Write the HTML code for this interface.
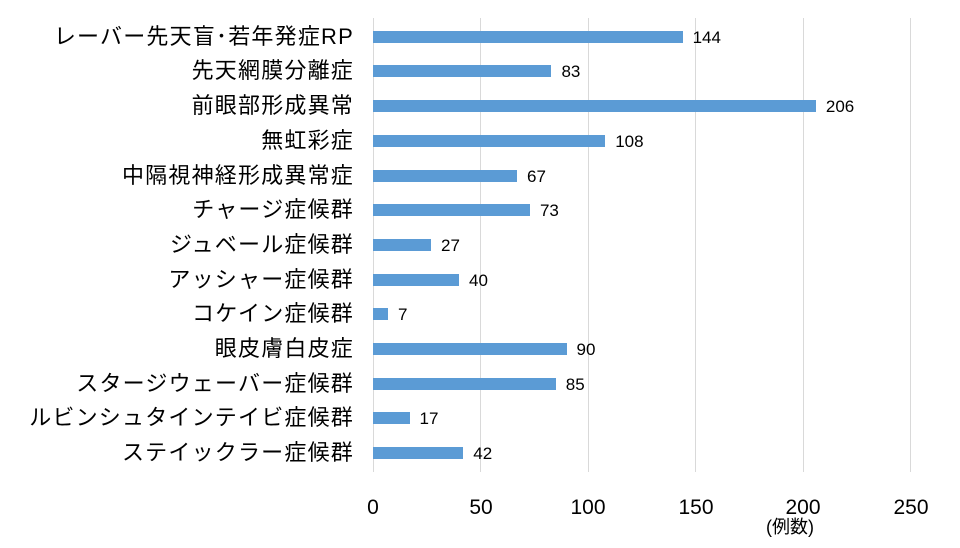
<!DOCTYPE html>
<html><head><meta charset="utf-8"><style>
body{margin:0;width:960px;height:548px;background:#fff;position:relative;overflow:hidden;font-family:"Liberation Sans","Noto Sans CJK JP",sans-serif;color:#000}
.g{position:absolute;top:18px;height:454px;width:1px;background:#d9d9d9}
.b{position:absolute;left:373px;height:12px;background:#5b9bd5}
.l{position:absolute;right:606px;font-size:22px;letter-spacing:1.2px;white-space:nowrap;line-height:24px}
.v{position:absolute;font-size:17px;line-height:18px}
.t{position:absolute;top:496px;font-size:21px;width:60px;text-align:center;line-height:24px}
</style></head><body>
<div class="g" style="left:373px"></div><div class="g" style="left:480px"></div><div class="g" style="left:588px"></div><div class="g" style="left:695px"></div><div class="g" style="left:803px"></div><div class="g" style="left:910px"></div>
<div id="rows"></div>
<div class="t" style="left:343px">0</div><div class="t" style="left:451px">50</div><div class="t" style="left:558px">100</div><div class="t" style="left:666px">150</div><div class="t" style="left:773px">200</div><div class="t" style="left:881px">250</div>
<div style="position:absolute;left:766px;top:516px;font-size:18px;line-height:22px">(例数)</div>
<script>
var d=[["レーバー先天盲･若年発症RP",144],["先天網膜分離症",83],["前眼部形成異常",206],["無虹彩症",108],["中隔視神経形成異常症",67],["チャージ症候群",73],["ジュベール症候群",27],["アッシャー症候群",40],["コケイン症候群",7],["眼皮膚白皮症",90],["スタージウェーバー症候群",85],["ルビンシュタインテイビ症候群",17],["ステイックラー症候群",42]];
var h="";d.forEach(function(r,i){var t=30.7+34.7*i,w=r[1]*2.15;
h+='<div class="l" style="top:'+(t-6)+'px">'+r[0]+'</div><div class="b" style="top:'+t+'px;width:'+w+'px"></div><div class="v" style="top:'+(t-2)+'px;left:'+(373+w+10)+'px">'+r[1]+'</div>';});
document.getElementById("rows").innerHTML=h;
</script>
</body></html>
